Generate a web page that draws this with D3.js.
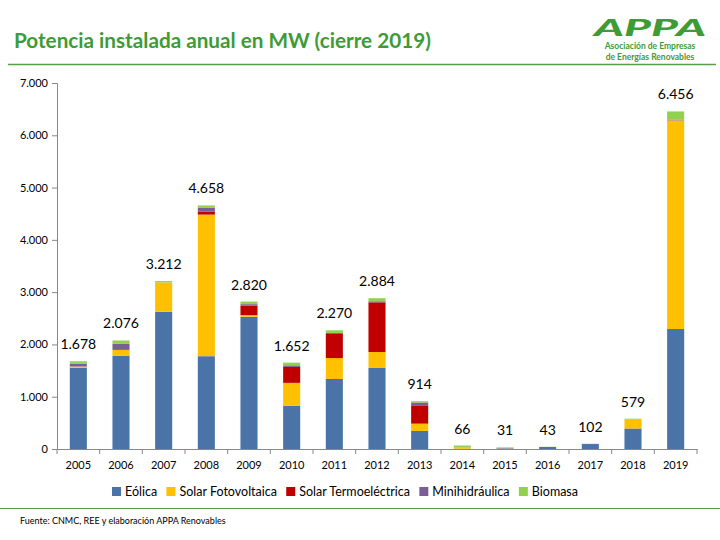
<!DOCTYPE html>
<html>
<head>
<meta charset="utf-8">
<script src="https://cdn.jsdelivr.net/npm/d3@7"></script>
<style>
  body { margin: 0; background: #fff; }
  svg { display: block; font-family: Lato, "Noto Sans", sans-serif; }
</style>
</head>
<body>
<div class="vis-chart"></div>
<script>
// Values (MW)
const years = ["2005","2006","2007","2008","2009","2010","2011","2012","2013","2014","2015","2016","2017","2018","2019"];
const eolica   = [1555, 1785, 2625, 1775, 2530, 825, 1340, 1550, 345, 5, 10, 38, 95, 392, 2295];
const solarFV  = [22, 110, 560, 2708, 30, 440, 400, 305, 140, 20, 5, 0, 7, 180, 3990];
const solarTE  = [0, 0, 0, 60, 180, 305, 460, 950, 350, 0, 0, 0, 0, 0, 0];
const minihidr = [51, 115, 0, 75, 30, 30, 20, 20, 55, 0, 6, 0, 0, 0, 15];
const biomasa  = [50, 66, 27, 40, 50, 52, 50, 59, 24, 41, 10, 5, 0, 7, 156];
const totals   = [1678, 2076, 3212, 4658, 2820, 1652, 2270, 2884, 914, 66, 31, 43, 102, 579, 6456];
const yTicks   = [0, 1000, 2000, 3000, 4000, 5000, 6000, 7000];

const seriesNames = ["Eólica", "Solar Fotovoltaica", "Solar Termoeléctrica", "Minihidráulica", "Biomasa"];
const seriesData = [eolica, solarFV, solarTE, minihidr, biomasa];
const colors = ["#4A73A8", "#FFC000", "#C00000", "#7B5E96", "#92D050"];

const W = 720, H = 540;
const margin = {top: 83, right: 23, bottom: 91, left: 57};
const width = W - margin.left - margin.right;
const height = H - margin.top - margin.bottom;

const svg = d3.select('.vis-chart')
    .append('svg')
    .attr('width', W)
    .attr('height', H);

const green = "#3E9B35";

// Title + header line
svg.append("text")
    .attr("x", 14).attr("y", 48)
    .attr("fill", green)
    .style("font-size", "20.7px")
    .style("font-weight", "bold")
    .text("Potencia instalada anual en MW (cierre 2019)");

svg.append("line")
    .attr("x1", 8).attr("x2", 716)
    .attr("y1", 64.5).attr("y2", 64.5)
    .attr("stroke", "#5A9E45").attr("stroke-width", 1.5);

// Logo (approximation with text)
const logo = svg.append("g").attr("transform", "translate(650,0)");
logo.append("text")
    .attr("x", -56).attr("y", 36)
    .attr("textLength", 112)
    .attr("lengthAdjust", "spacingAndGlyphs")
    .attr("fill", green)
    .style("font-size", "22px")
    .style("font-weight", "900")
    .style("font-style", "italic")
    .text("APPA");
logo.append("text")
    .attr("x", 0).attr("y", 49)
    .attr("text-anchor", "middle")
    .attr("fill", green)
    .style("font-size", "8.5px")
    .style("font-weight", "bold")
    .text("Asociación de Empresas");
logo.append("text")
    .attr("x", 0).attr("y", 59.5)
    .attr("text-anchor", "middle")
    .attr("fill", green)
    .style("font-size", "8.5px")
    .style("font-weight", "bold")
    .text("de Energías Renovables");

const g = svg.append("g")
    .attr("transform", "translate(" + margin.left + "," + margin.top + ")");

// Scales
let xScale = d3.scaleBand()
    .domain(years)
    .range([0, width])
    .paddingInner(0.6)
    .paddingOuter(0.3);

let yScale = d3.scaleLinear()
    .domain([0, 7000])
    .range([height, 0]);

const fmt = d3.formatLocale({decimal: ",", thousands: ".", grouping: [3]}).format(",d");

// Stack the data
const table = years.map(function(y, i){
    let row = {year: y};
    seriesNames.forEach(function(n, k){ row[n] = seriesData[k][i]; });
    return row;
});
const stacked = d3.stack().keys(seriesNames)(table);

g.selectAll(".layer")
    .data(stacked)
    .enter()
    .append("g")
    .attr("fill", function(d, i){ return colors[i]; })
    .selectAll("rect")
    .data(function(d){ return d; })
    .enter()
    .append("rect")
    .attr("x", function(d){ return xScale(d.data.year); })
    .attr("width", xScale.bandwidth())
    .attr("y", function(d){ return yScale(d[1]); })
    .attr("height", function(d){ return yScale(d[0]) - yScale(d[1]); });

// Y axis
const yAxis = g.append("g")
    .call(d3.axisLeft(yScale).tickValues(yTicks).tickSize(5).tickFormat(fmt));
yAxis.select(".domain").attr("stroke", "#888");
yAxis.selectAll(".tick line").attr("stroke", "#888");
yAxis.selectAll("text")
    .attr("x", -9)
    .attr("fill", "#000")
    .style("font-size", "11px")
    .style("font-family", "Lato, sans-serif");

// X axis
const xAxis = g.append("g")
    .attr("transform", "translate(0," + height + ")")
    .call(d3.axisBottom(xScale).tickSize(0).tickPadding(12));
xAxis.select(".domain").attr("stroke", "#888");
xAxis.selectAll("text")
    .attr("fill", "#000")
    .style("font-size", "11px")
    .style("font-family", "Lato, sans-serif");
// tick marks between categories
g.append("g")
    .selectAll("line")
    .data(d3.range(years.length + 1))
    .enter()
    .append("line")
    .attr("x1", function(i){ return i * width / years.length; })
    .attr("x2", function(i){ return i * width / years.length; })
    .attr("y1", height).attr("y2", height + 5)
    .attr("stroke", "#888");

// Totals
g.selectAll(".total")
    .data(totals)
    .enter()
    .append("text")
    .attr("class", "total")
    .attr("x", function(d, i){ return xScale(years[i]) + xScale.bandwidth() / 2; })
    .attr("y", function(d){ return yScale(d) - 12; })
    .attr("text-anchor", "middle")
    .style("font-size", "14px")
    .text(function(d){ return fmt(d); });

// Legend: laid out from the measured label widths between two ends
const legendStart = 112, legendEnd = 578, sw = 9, gapText = 4;
const legend = svg.append("g");
const labels = seriesNames.map(function(n){
    return legend.append("text")
        .attr("y", 496)
        .style("font-size", "12.5px")
        .text(n);
});
const widths = labels.map(function(t){ return t.node().getComputedTextLength(); });
const used = d3.sum(widths) + seriesNames.length * (sw + gapText);
const gapItem = (legendEnd - legendStart - used) / (seriesNames.length - 1);
let cx = legendStart;
seriesNames.forEach(function(n, i){
    legend.append("rect")
        .attr("x", cx).attr("y", 487)
        .attr("width", sw).attr("height", sw)
        .attr("fill", colors[i]);
    labels[i].attr("x", cx + sw + gapText);
    cx += sw + gapText + widths[i] + gapItem;
});

svg.append("line")
    .attr("x1", 0).attr("x2", 720)
    .attr("y1", 508.5).attr("y2", 508.5)
    .attr("stroke", "#5A9E45").attr("stroke-width", 1.2);

svg.append("text")
    .attr("x", 20).attr("y", 524)
    .style("font-size", "9px")
    .text("Fuente: CNMC, REE y elaboración APPA Renovables");
</script>
</body>
</html>
